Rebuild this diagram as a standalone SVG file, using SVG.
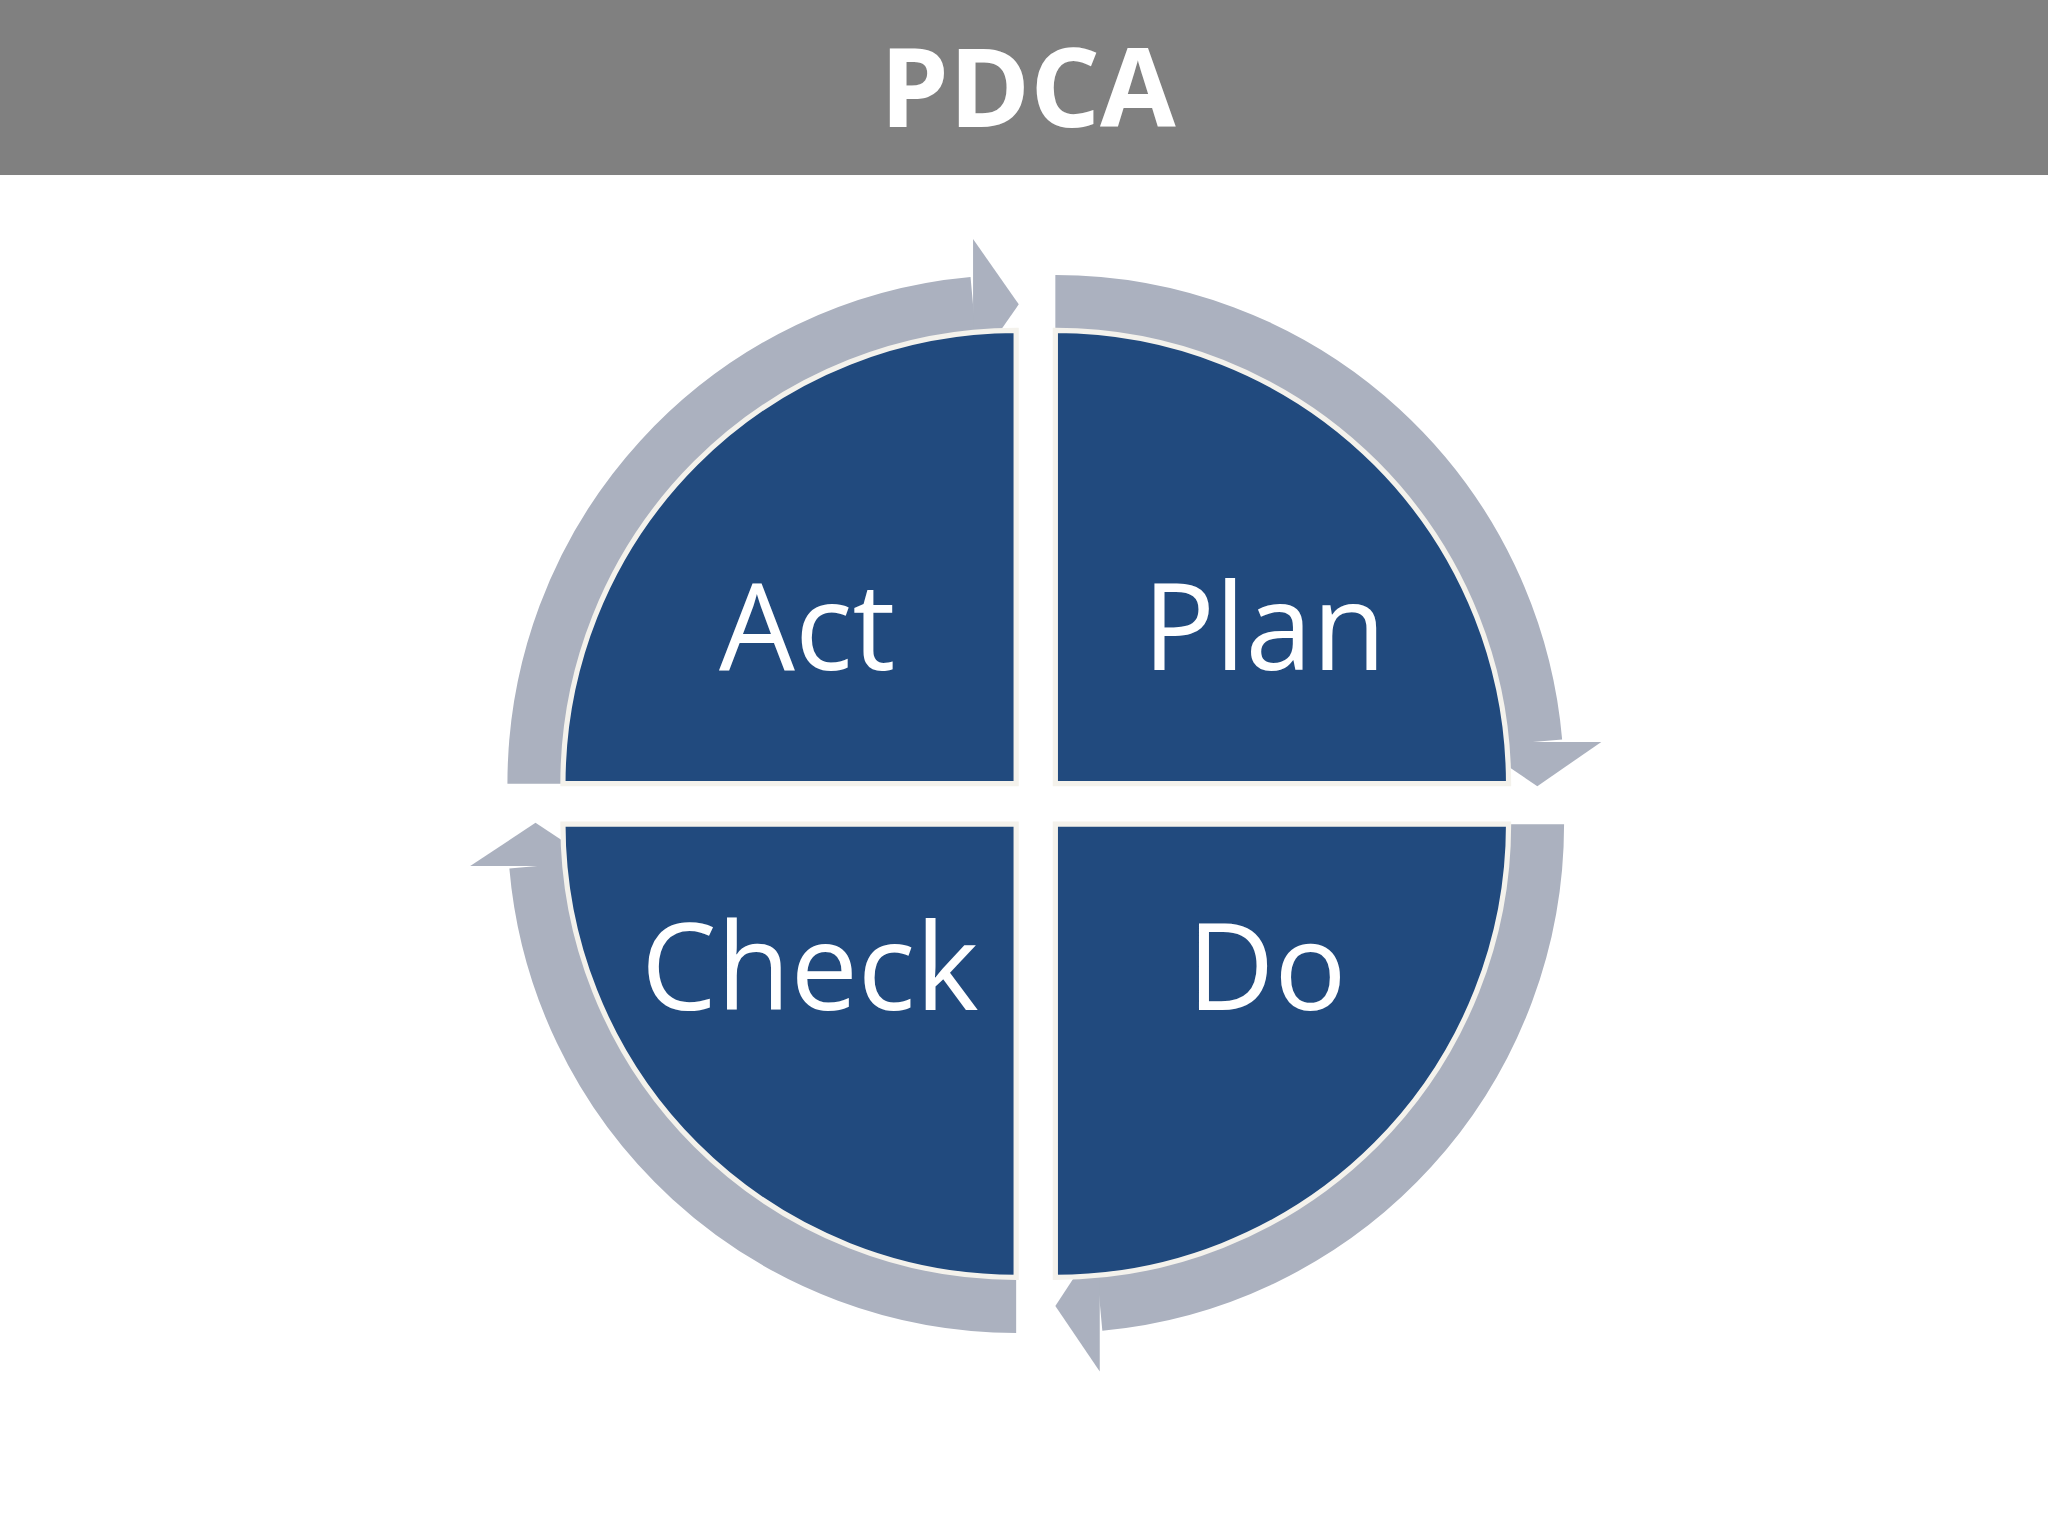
<svg xmlns="http://www.w3.org/2000/svg" width="2048" height="1536" viewBox="0 0 2048 1536">
<style>
.q{fill:#214A7E;stroke:#F4F2EC;stroke-width:4}
.ring{fill:none;stroke:#ABB1BF;stroke-width:43}
.head{fill:#ABB1BF}
.lbl{font-family:"Open Sans","DejaVu Sans",sans-serif;font-size:92px;fill:#fff;text-anchor:middle}
</style>
<rect width="2048" height="1536" fill="#fff"/>
<g transform="scale(1.30612)">
<g id="header"><rect x="0" y="0" width="1568" height="134" fill="#808080"/>
<text x="787" y="97" style="font-family:'Open Sans','DejaVu Sans',sans-serif;font-weight:bold;font-size:84px;fill:#fff;text-anchor:middle">PDCA</text></g>
<g id="connectors">
<path class="ring" d="M808,232 A368,368 0 0 1 1174.6,568"/>
<polygon class="head" points="1127,568 1226,568 1177,602"/>
<path class="ring" d="M1176,631 A368,368 0 0 1 842,997.4"/>
<polygon class="head" points="842,948 842,1050 808,1000"/>
<path class="ring" d="M778,999 A368,368 0 0 1 411.4,663"/>
<polygon class="head" points="360,663 460,663 410,630"/>
<path class="ring" d="M410,600 A368,368 0 0 1 745,233.5"/>
<polygon class="head" points="745,183 745,283 780,233"/>
</g>
<g id="plan"><path class="q" d="M808,253 A347,347 0 0 1 1155,600 L808,600 Z"/><text class="lbl" x="968" y="513">Plan</text></g>
<g id="do"><path class="q" d="M808,631 L1155,631 A347,347 0 0 1 808,978 Z"/><text class="lbl" x="970" y="773">Do</text></g>
<g id="check"><path class="q" d="M778,631 L778,978 A347,347 0 0 1 431,631 Z"/><text class="lbl" x="620" y="773">Check</text></g>
<g id="act"><path class="q" d="M431,600 A347,347 0 0 1 778,253 L778,600 Z"/><text class="lbl" x="618" y="513">Act</text></g>
</g>
</svg>
